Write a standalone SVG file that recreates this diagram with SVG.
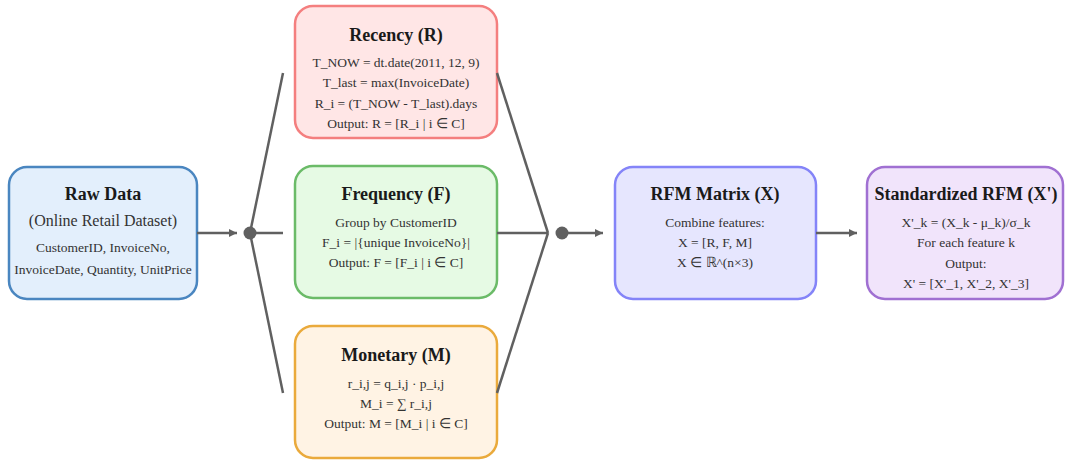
<svg xmlns="http://www.w3.org/2000/svg" width="1066" height="461" viewBox="0 0 1066 461">
  <defs>
    <marker id="arrow" viewBox="0 0 10 10" refX="10" refY="5" markerWidth="8" markerHeight="8" markerUnits="userSpaceOnUse" orient="auto">
      <path d="M0,0 L10,5 L0,10 Z" fill="#606060"/>
    </marker>
    <style>
      .box { stroke-width: 2.5; }
      .title { font-family: "Liberation Serif", "Times New Roman", serif; font-size: 18px; font-weight: bold; fill: #1a1a1a; text-anchor: middle; }
      .sub { font-family: "Liberation Serif", "Times New Roman", serif; font-size: 16px; fill: #333; text-anchor: middle; }
      .body { font-family: "Liberation Serif", "Times New Roman", serif; font-size: 13.5px; fill: #333; text-anchor: middle; }
      .line { stroke: #606060; stroke-width: 2.5; fill: none; }
      .dot { fill: #606060; }
    </style>
  </defs>
  <rect width="1066" height="461" fill="#ffffff"/>

  <g id="raw-data">
    <rect class="box" x="9" y="167" width="188" height="132" rx="18" fill="#e3effc" stroke="#4a86c0"/>
    <text class="title" x="103" y="200">Raw Data</text>
    <text class="sub" x="103" y="226">(Online Retail Dataset)</text>
    <text class="body" x="103" y="252">CustomerID, InvoiceNo,</text>
    <text class="body" x="103" y="274">InvoiceDate, Quantity, UnitPrice</text>
  </g>

  <g id="recency">
    <rect class="box" x="295" y="6" width="202" height="132" rx="18" fill="#ffe6e6" stroke="#f47f7f"/>
    <text class="title" x="396" y="41">Recency (R)</text>
    <text class="body" x="396" y="67">T_NOW = dt.date(2011, 12, 9)</text>
    <text class="body" x="396" y="87">T_last = max(InvoiceDate)</text>
    <text class="body" x="396" y="108">R_i = (T_NOW - T_last).days</text>
    <text class="body" x="396" y="128">Output: R = [R_i | i ∈ C]</text>
  </g>

  <g id="frequency">
    <rect class="box" x="295" y="166" width="202" height="132" rx="18" fill="#e6fae4" stroke="#6bbb68"/>
    <text class="title" x="396" y="200">Frequency (F)</text>
    <text class="body" x="396" y="227">Group by CustomerID</text>
    <text class="body" x="396" y="247">F_i = |{unique InvoiceNo}|</text>
    <text class="body" x="396" y="267">Output: F = [F_i | i ∈ C]</text>
  </g>

  <g id="monetary">
    <rect class="box" x="295" y="326" width="202" height="132" rx="18" fill="#fff3e4" stroke="#eaaa3c"/>
    <text class="title" x="396" y="361">Monetary (M)</text>
    <text class="body" x="396" y="388">r_i,j = q_i,j · p_i,j</text>
    <text class="body" x="396" y="408">M_i = ∑ r_i,j</text>
    <text class="body" x="396" y="428">Output: M = [M_i | i ∈ C]</text>
  </g>

  <g id="rfm-matrix">
    <rect class="box" x="615" y="167" width="201" height="132" rx="18" fill="#e6e6fe" stroke="#8484f8"/>
    <text class="title" x="715" y="200">RFM Matrix (X)</text>
    <text class="body" x="715" y="227">Combine features:</text>
    <text class="body" x="715" y="247">X = [R, F, M]</text>
    <text class="body" x="715" y="267">X ∈ ℝ^(n×3)</text>
  </g>

  <g id="standardized-rfm">
    <rect class="box" x="867" y="167" width="196" height="132" rx="18" fill="#f1e4fb" stroke="#a070d2"/>
    <text class="title" x="966" y="200">Standardized RFM (X')</text>
    <text class="body" x="966" y="227">X'_k = (X_k - μ_k)/σ_k</text>
    <text class="body" x="966" y="247">For each feature k</text>
    <text class="body" x="966" y="268">Output:</text>
    <text class="body" x="966" y="288">X' = [X'_1, X'_2, X'_3]</text>
  </g>

  <g id="connectors">
    <line class="line" x1="197" y1="233" x2="237" y2="233" marker-end="url(#arrow)"/>
    <circle class="dot" cx="250" cy="233" r="6.5"/>
    <line class="line" x1="250" y1="233" x2="283" y2="73"/>
    <line class="line" x1="250" y1="233" x2="283" y2="233"/>
    <line class="line" x1="250" y1="233" x2="283" y2="393"/>

    <line class="line" x1="497" y1="73" x2="548" y2="233"/>
    <line class="line" x1="497" y1="233" x2="548" y2="233"/>
    <line class="line" x1="497" y1="393" x2="548" y2="233"/>
    <circle class="dot" cx="562" cy="233" r="6.5"/>
    <line class="line" x1="562" y1="233" x2="603" y2="233" marker-end="url(#arrow)"/>

    <line class="line" x1="816" y1="233" x2="857" y2="233" marker-end="url(#arrow)"/>
  </g>
</svg>
